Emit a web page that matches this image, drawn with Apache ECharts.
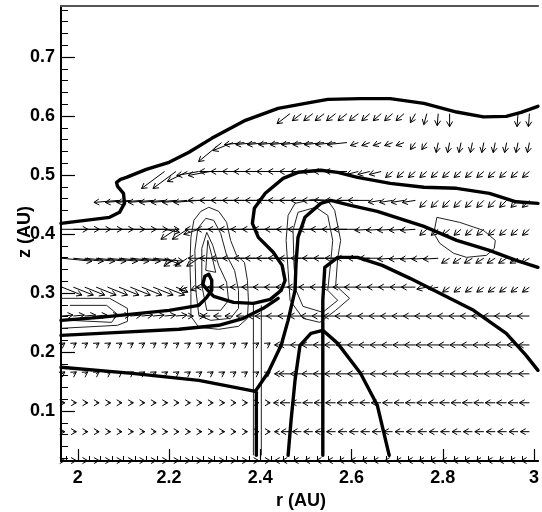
<!DOCTYPE html>
<html><head><meta charset="utf-8">
<script src="https://cdn.jsdelivr.net/npm/echarts@6/dist/echarts.min.js"></script>
<style>html,body{margin:0;padding:0;background:#fff}#c{width:542px;height:512px}</style>
</head><body><div id="c"></div>
<script>
// ---------- axis ticks ----------
const xMajor = [2, 2.2, 2.4, 2.6, 2.8, 3];
const yMajor = [0.1, 0.2, 0.3, 0.4, 0.5, 0.6, 0.7];

// ---------- vector grid ----------
const R = [1.965,1.990,2.015,2.040,2.065,2.090,2.115,2.140,2.165,2.190,2.215,2.240,2.265,2.290,2.315,2.340,2.365,2.390,2.415,2.440,2.465,2.490,2.515,2.540,2.565,2.590,2.615,2.640,2.665,2.690,2.715,2.740,2.765,2.790,2.815,2.840,2.865,2.890,2.915,2.940,2.965,2.990];
const Z = [0.016,0.065,0.114,0.163,0.212,0.261,0.310,0.359,0.408,0.457,0.506,0.555,0.604];
const n = null;
const u0 = [3,3,3,3,3,3,3,3,3,3, 3,3,3,3,3,3,3,3,3,-4, -8,-8,-8,-8,-8,-8,-8,-8,-8,-8, -8,-8,-8,-8,-8,-8,-8,-8,-8,-8, -8,-8];
const w0 = [0,0,0,0,0,0,0,0,0,0, 0,0,0,0,0,0,0,0,0,0, 0,0,0,0,0,0,0,0,0,0, 0,0,0,0,0,0,0,0,0,0, 0,0];
const u1 = [3,3,3,3,3,3,3,3,3,3, 3,3,3,3,3,3,3,3,3,-4, -9,-9,-9,-9,-9,-9,-9,-9,-9,-9, -9,-9,-9,-9,-9,-9,-9,-9,-9,-9, -9,-9];
const w1 = [0,0,0,0,0,0,0,0,0,0, 0,0,0,0,0,0,0,0,0,0, 0,0,0,0,0,0,0,0,0,0, 0,0,0,0,0,0,0,0,0,0, 0,0];
const u2 = [3,3,3,3,3,3,3,3,3,3, 3,3,3,3,3,3,3,3,3,-5, -10,-10,-10,-10,-10,-10,-10,-10,-10,-10, -10,-10,-10,-10,-10,-10,-10,-10,-10,-10, -10,-10];
const w2 = [0,0,0,0,0,0,0,0,0,0, 0,0,0,0,0,0,0,0,0,0, 0,0,0,0,0,0,0,0,0,0, 0,0,0,0,0,0,0,0,0,0, 0,0];
const u3 = [3,3,3,3,3,3,3,3,3,3, 3,3,3,3,3,3,3,3,3,-4, -11,-11,-11,-11,-11,-11,-11,-11,-11,-11, -11,-11,-11,-11,-11,-11,-11,-11,-11,-11, -11,-11];
const w3 = [2,2,2,2,2,2,2,2,2,2, 2,2,2,2,2,2,2,2,2,0, 0,0,0,0,0,0,0,0,0,0, 0,0,0,0,0,0,0,0,0,0, 0,0];
const u4 = [3,3,3,3,3,3,3,3,3,3, 3,3,3,3,3,3,3,3,3,-4, -11,-11,-11,-11,-11,-11,-11,-11,-11,-11, -11,-11,-11,-11,-11,-11,-11,-11,-11,-11, -11,-11];
const w4 = [2,2,2,2,2,2,2,2,2,2, 2,2,2,2,2,2,2,2,2,0, 0,0,0,0,0,0,0,0,0,0, 0,0,0,0,0,0,0,0,0,0, 0,0];
const u5 = [11,11,11,11,11,11,11,11,11,11, 11,6,6,-8,-8,-8,-8,-8,-12,-12, -12,-12,-12,-12,-12,-12,-12,-12,-12,-12, -12,-12,-12,-12,-12,-12,-12,-12,-12,-12, -12,-12];
const w5 = [1,1,1,1,1,1,1,1,1,1, 1,0,0,0,0,0,0,0,0,0, 0,0,0,0,0,0,0,0,0,0, 0,0,0,0,0,0,0,0,0,0, 0,0];
const u6 = [20,20,20,20,20,20,20,20,20,20, 12,-8,-8,-14,-14,-14,-14,-14,-14,-14, -14,-14,-14,-14,-14,-14,-14,-14,-14,-14, -14,-14,-10,-10,-7,-7,-7,-7,-7,-7, -7,-7];
const w6 = [-8,-8,-8,-8,-8,-8,-8,-8,-8,-8, -5,-3,-3,0,0,0,0,0,0,0, 0,0,0,0,0,0,0,0,0,0, 0,0,-2,-2,-5,-5,-5,-5,-5,-5, -5,-5];
const u7 = [30,30,30,30,30,30,30,30,30,15, -12,-12,-12,-22,-22,-22,-22,-22,-22,-22, -22,-22,-22,-22,-22,-22,-22,-22,-22,-15, -15,-15,-15,-15,-8,-8,-8,-8,-8,-8, -8,-8];
const w7 = [-3,-3,-3,-3,-3,-3,-3,-3,-3,-6, -8,-8,-8,0,0,0,0,0,0,0, 0,0,0,0,0,0,0,0,0,-1, -1,-1,-1,-1,-5,-5,-5,-5,-5,-5, -5,-5];
const u8 = [26,26,26,26,26,26,26,26,26,15, -15,-15,-15,-25,-25,-25,-25,-25,-25,-25, -25,-25,-25,-25,-25,-25,-25,-15,-15,-15, -15,-15,-7,-7,-7,-7,-7,-7,-7,-7, -7,-7];
const w8 = [0,0,0,0,0,0,0,0,0,-3, -10,-10,-5,0,0,0,0,0,0,0, 0,0,0,0,0,0,0,-1,-1,-1, -1,-1,-6,-6,-6,-6,-6,-6,-6,-6, -6,-6];
const u9 = [n,n,n,n,n,-25,-25,-25,-25,-25, -25,-25,-25,-22,-22,-22,-22,-22,-22,-22, -22,-22,-22,-22,-22,-22,-22,-22,-13,-13, -13,-13,-7,-7,-7,-7,-7,-7,-7,-7, -7,-7];
const w9 = [n,n,n,n,n,-2,-2,-2,-2,-2, -2,-2,-2,0,0,0,0,0,0,0, 0,0,0,0,0,0,0,0,-2,-2, -2,-2,-7,-7,-7,-7,-7,-7,-7,-7, -7,-7];
const u10 = [n,n,n,n,n,n,n,n,n,-23, -23,-20,-22,-22,-22,-22,-22,-22,-22,-22, -22,-22,-22,-22,-22,-22,-12,-12,-12,-7, -7,-7,-7,-7,-7,-7,-7,-7,-7,-7, -7,-7];
const w10 = [n,n,n,n,n,n,n,n,n,-17, -17,-10,-4,-4,0,0,0,0,0,0, 0,0,0,0,0,0,-3,-3,-3,-6, -6,-6,-6,-6,-6,-6,-6,-6,-6,-6, -6,-6];
const u11 = [n,n,n,n,n,n,n,n,n,n, n,n,n,n,-23,-20,-20,-20,-20,-20, -20,-20,-20,-20,-20,-20,-8,-8,-8,-8, -8,-5,-5,-2,-2,-2,-2,-2,-2,-2, -2,-2];
const w11 = [n,n,n,n,n,n,n,n,n,n, n,n,n,n,-19,-8,-2,-2,-2,-2, -2,-2,-2,-2,-2,-2,-3,-3,-3,-3, -3,-7,-7,-10,-10,-10,-10,-10,-10,-10, -10,-10];
const u12 = [n,n,n,n,n,n,n,n,n,n, n,n,n,n,n,n,n,n,n,n, -13,-9,-9,-9,-9,-9,-9,-8,-8,-8, -8,-5,-3,-1,0,n,n,n,n,n, -1,-1];
const w12 = [n,n,n,n,n,n,n,n,n,n, n,n,n,n,n,n,n,n,n,n, -10,-7,-7,-7,-7,-7,-7,-7,-7,-7, -7,-9,-11,-12,-13,n,n,n,n,n, -13,-13];
const U = [u0,u1,u2,u3,u4,u5,u6,u7,u8,u9,u10,u11,u12];
const W = [w0,w1,w2,w3,w4,w5,w6,w7,w8,w9,w10,w11,w12];

// ---------- thick contour lines [r, z] ----------
const thick1 = [[1.963,0.4181],[2.0696,0.4283],[2.0913,0.4368],[2.1022,0.4520],[2.1000,0.4690],[2.0870,0.4808],[2.0848,0.4876],[2.0935,0.4927],[2.1065,0.4961],[2.1500,0.5097],[2.2000,0.5215],[2.2435,0.5385],[2.2935,0.5622],[2.3674,0.5927],[2.4391,0.6131],[2.5109,0.6232],[2.5478,0.6283],[2.6196,0.6295],[2.6848,0.6295],[2.7587,0.6215],[2.8304,0.6068],[2.8891,0.5986],[2.9391,0.5995],[2.9717,0.6063],[3.0087,0.6164]];
const thick2 = [[3.0087,0.4520],[2.9609,0.4546],[2.9022,0.4690],[2.8304,0.4775],[2.7587,0.4792],[2.6848,0.4859],[2.6130,0.4961],[2.5696,0.5046],[2.5326,0.5080],[2.4826,0.5046],[2.4500,0.4944],[2.4109,0.4690],[2.3870,0.4436],[2.3826,0.4181],[2.3957,0.3944],[2.4283,0.3690],[2.4478,0.3469],[2.4543,0.3215],[2.4457,0.3046],[2.4217,0.2893],[2.3848,0.2825],[2.3413,0.2842],[2.2978,0.2944],[2.2848,0.3046],[2.2739,0.3147],[2.2783,0.3283],[2.2870,0.3317],[2.2935,0.3215],[2.2935,0.3046],[2.2826,0.2927],[2.2652,0.2792],[2.2000,0.2707],[2.1130,0.2639],[2.0478,0.2588],[1.963,0.2537]];
const thick3 = [[1.963,0.2283],[2.0913,0.2334],[2.2217,0.2385],[2.3087,0.2453],[2.3630,0.2571],[2.4065,0.2741],[2.4391,0.2910]];
const thick4 = [[1.963,0.1741],[2.1196,0.1639],[2.2652,0.1520],[2.3891,0.1334],[2.4174,0.1656],[2.4457,0.2114],[2.4609,0.2537],[2.4761,0.3046],[2.4783,0.3503],[2.4826,0.3944],[2.4978,0.4283],[2.5326,0.4520],[2.5543,0.4571],[2.5978,0.4487],[2.6565,0.4385],[2.7587,0.4130],[2.8304,0.3893],[2.9022,0.3724],[2.9609,0.3555],[3.0087,0.3436]];
const thick5 = [[2.3913,0.1317],[2.3913,0.0249]];
const thick6 = [[2.4609,0.0249],[2.4674,0.0842],[2.4761,0.1520],[2.4870,0.2114],[2.5109,0.2317],[2.5370,0.2368],[2.5696,0.2147],[2.6196,0.1639],[2.6565,0.1097],[2.6826,0.0249]];
const thick7 = [[2.5370,0.0249],[2.5370,0.2876],[2.5413,0.3435],[2.5696,0.3605],[2.6130,0.3605],[2.6674,0.3469],[2.7283,0.3249],[2.7587,0.3131],[2.8674,0.2707],[2.9391,0.2317],[2.9826,0.1944],[3.0087,0.1690]];

// ---------- thin contour lines [r, z] ----------
const thinA1 = [[2.2478,0.2995],[2.2457,0.3469],[2.2478,0.3944],[2.2543,0.4232],[2.2696,0.4385],[2.2870,0.4453],[2.3087,0.4385],[2.3261,0.4198],[2.3348,0.3893],[2.3478,0.3639],[2.3652,0.3520],[2.3717,0.3215],[2.3739,0.2876],[2.3717,0.2571],[2.3522,0.2436],[2.3087,0.2385],[2.2652,0.2419],[2.2478,0.2605],[2.2478,0.2995]];
const thinA2 = [[2.2587,0.3046],[2.2565,0.3724],[2.2630,0.4096],[2.2804,0.4266],[2.2978,0.4232],[2.3130,0.4011],[2.3261,0.3639],[2.3435,0.3385],[2.3522,0.3046],[2.3522,0.2740],[2.3348,0.2571],[2.2913,0.2537],[2.2652,0.2622],[2.2587,0.3046]];
const thinA3 = [[2.2717,0.3130],[2.2717,0.3757],[2.2826,0.4028],[2.2957,0.3808],[2.3087,0.3469],[2.3261,0.3181],[2.3304,0.2876],[2.3130,0.2707],[2.2826,0.2707],[2.2717,0.3130]];
const thinA4 = [[2.2804,0.3385],[2.2848,0.3893],[2.2935,0.3639],[2.3022,0.3351],[2.2804,0.3385]];
const thinB1 = [[2.4609,0.3385],[2.4565,0.3893],[2.4609,0.4317],[2.4761,0.4520],[2.5152,0.4588],[2.5478,0.4571],[2.5630,0.4402],[2.5761,0.3893],[2.5696,0.3588],[2.5652,0.3130],[2.5957,0.2910],[2.5652,0.2707],[2.5304,0.2503],[2.4935,0.2571],[2.4652,0.2876],[2.4609,0.3385]];
const thinB2 = [[2.4739,0.3469],[2.4717,0.4062],[2.4826,0.4368],[2.5217,0.4453],[2.5478,0.4317],[2.5587,0.3893],[2.5543,0.3520],[2.5478,0.3046],[2.5696,0.2876],[2.5370,0.2673],[2.4935,0.2774],[2.4783,0.3046],[2.4739,0.3469]];
const thinC1 = [[1.963,0.2910],[2.0696,0.2910],[2.1087,0.2740],[2.1087,0.2520],[2.0870,0.2453],[1.963,0.2402]];
const thinC2 = [[1.9826,0.2791],[2.0630,0.2791],[2.0870,0.2639],[2.0739,0.2503],[1.9826,0.2537]];
const thinD = [[2.7870,0.4283],[2.8370,0.4198],[2.8891,0.4062],[2.9152,0.3893],[2.9130,0.3757],[2.8957,0.3639],[2.8522,0.3605],[2.8239,0.3673],[2.7935,0.3842],[2.7804,0.4011],[2.7870,0.4283]];
const thinV1 = [[2.3848,0.2825],[2.3848,0.0249]];
const thinV2 = [[2.4022,0.2791],[2.4022,0.0249]];

// ---------- build ----------
const vecData = [];
for (let j = 0; j < Z.length; j++) {
  for (let k = 0; k < R.length; k++) {
    if (U[j][k] === null) continue;
    vecData.push([R[k], Z[j], U[j][k], W[j][k]]);
  }
}
const xMinor = [], yMinor = [];
for (let i = 79; i <= 120; i++) xMinor.push(+(i * 0.025).toFixed(3));
for (let i = 1; i <= 39; i++) yMinor.push(+(i * 0.02).toFixed(2));

const FONT = 'Liberation Sans, Arial, sans-serif';
const thickLines = [thick1, thick2, thick3, thick4, thick5, thick6, thick7];
const thinLines = [thinA1, thinA2, thinA3, thinA4, thinB1, thinB2, thinC1, thinC2, thinD, thinV1, thinV2];

function renderArrow(params, api) {
  const p = api.coord([api.value(0), api.value(1)]);
  const dx = api.value(2), dy = -api.value(3);
  const L = Math.hypot(dx, dy) || 1;
  const tx = p[0] + dx, ty = p[1] + dy;
  const ux = dx / L, uy = dy / L;
  const h = 6, c = Math.cos(Math.PI / 6), s = Math.sin(Math.PI / 6);
  const b1 = [tx - h * (ux * c - uy * s), ty - h * (uy * c + ux * s)];
  const b2 = [tx - h * (ux * c + uy * s), ty - h * (uy * c - ux * s)];
  const st = { stroke: '#000', lineWidth: 1, fill: null };
  return { type: 'group', children: [
    { type: 'line', shape: { x1: p[0], y1: p[1], x2: tx, y2: ty }, style: st },
    { type: 'polyline', shape: { points: [b1, [tx, ty], b2] }, style: st }
  ]};
}

const series = [];
series.push({ type: 'custom', renderItem: renderArrow, data: vecData, xAxisIndex: 0, yAxisIndex: 0, silent: true, z: 2 });
thinLines.forEach(d => series.push({ type: 'line', data: d, showSymbol: false, symbol: 'none', lineStyle: { color: '#222', width: 1 }, xAxisIndex: 0, yAxisIndex: 0, z: 3, silent: true }));
thickLines.forEach(d => series.push({ type: 'line', data: d, showSymbol: false, symbol: 'none', lineStyle: { color: '#000', width: 3.4, join: 'round', cap: 'round' }, xAxisIndex: 0, yAxisIndex: 0, z: 4, silent: true }));

const X0 = 1.963, X1 = 3.009, Y0 = 0.0153, Y1 = 0.7865;
const chart = echarts.init(document.getElementById('c'), null, { renderer: 'canvas' });
chart.setOption({
  animation: false,
  backgroundColor: '#fff',
  grid: { left: 61, right: 0, top: 6, bottom: 51 },
  xAxis: [
    { type: 'value', min: X0, max: X1, position: 'bottom',
      axisLine: { show: true, onZero: false, lineStyle: { color: '#000', width: 2 } },
      axisTick: { show: true, inside: true, length: 12, customValues: xMajor, lineStyle: { color: '#000', width: 1.2 } },
      axisLabel: { show: true, customValues: xMajor, margin: 8, color: '#000', fontFamily: FONT, fontWeight: 'bold', fontSize: 18,
        formatter: v => String(+(+v).toFixed(1)) },
      splitLine: { show: false } },
    { type: 'value', min: X0, max: X1, position: 'bottom',
      axisLine: { show: false, onZero: false },
      axisTick: { show: true, inside: true, length: 5, customValues: xMinor, lineStyle: { color: '#000', width: 1 } },
      axisLabel: { show: false }, splitLine: { show: false } },
    { type: 'value', min: X0, max: X1, position: 'top',
      axisLine: { show: true, onZero: false, lineStyle: { color: '#555', width: 2 } },
      axisTick: { show: false }, axisLabel: { show: false }, splitLine: { show: false } }
  ],
  yAxis: [
    { type: 'value', min: Y0, max: Y1, position: 'left',
      axisLine: { show: true, onZero: false, lineStyle: { color: '#000', width: 2 } },
      axisTick: { show: true, inside: true, length: 14, customValues: yMajor, lineStyle: { color: '#000', width: 1.2 } },
      axisLabel: { show: true, customValues: yMajor, margin: 6, color: '#000', fontFamily: FONT, fontWeight: 'bold', fontSize: 18,
        formatter: v => (+v).toFixed(1) },
      splitLine: { show: false } },
    { type: 'value', min: Y0, max: Y1, position: 'left',
      axisLine: { show: false, onZero: false },
      axisTick: { show: true, inside: true, length: 7, customValues: yMinor, lineStyle: { color: '#000', width: 1 } },
      axisLabel: { show: false }, splitLine: { show: false } }
  ],
  graphic: [
    { type: 'text', x: 301, y: 501, style: { text: 'r (AU)', font: 'bold 18px ' + FONT, fill: '#000', align: 'center', verticalAlign: 'middle' } },
    { type: 'text', x: 25, y: 232, rotation: Math.PI / 2, style: { text: 'z (AU)', font: 'bold 18px ' + FONT, fill: '#000', align: 'center', verticalAlign: 'middle' } }
  ],
  series: series
});
</script>
</body></html>
